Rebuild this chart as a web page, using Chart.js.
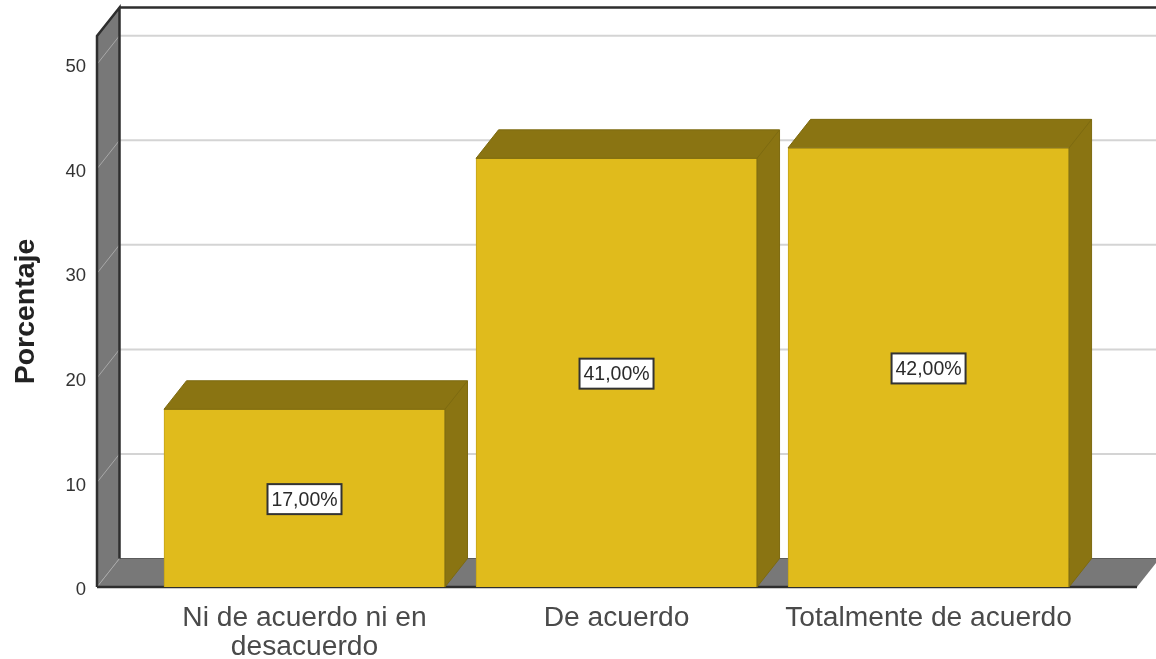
<!DOCTYPE html>
<html>
<head>
<meta charset="utf-8">
<title>Porcentaje</title>
<script src="https://cdn.jsdelivr.net/npm/chart.js@4"></script>
<style>
  html, body { margin: 0; padding: 0; background: #fff; overflow: hidden; }
  #wrap { width: 1156px; height: 659px; }
  canvas { filter: blur(0.5px); }
</style>
</head>
<body>
<div id="wrap"><canvas id="chart"></canvas></div>
<script>
const categories = [['Ni de acuerdo ni en', 'desacuerdo'], 'De acuerdo', 'Totalmente de acuerdo'];
const percentages = [17, 41, 42];
const valueLabels = ['17,00%', '41,00%', '42,00%'];

// profundidad del efecto 3D
const DX = 22.5;
const DY = 28.5;

const wall3d = {
  id: 'wall3d',
  beforeDatasetsDraw(chart) {
    const { ctx, chartArea: a, scales: { y } } = chart;
    const bx = a.left + DX;
    const by = a.bottom - DY;
    const top = a.top - DY;
    ctx.save();

    // pared izquierda
    ctx.fillStyle = '#787878';
    ctx.beginPath();
    ctx.moveTo(a.left, a.top);
    ctx.lineTo(bx, top);
    ctx.lineTo(bx, by);
    ctx.lineTo(a.left, a.bottom);
    ctx.closePath();
    ctx.fill();

    // suelo
    ctx.beginPath();
    ctx.moveTo(a.left, a.bottom);
    ctx.lineTo(bx, by);
    ctx.lineTo(a.right + DX, by);
    ctx.lineTo(a.right, a.bottom);
    ctx.closePath();
    ctx.fill();

    // lineas de cuadricula
    y.ticks.forEach(t => {
      const py = y.getPixelForValue(t.value);
      ctx.lineWidth = 1;
      ctx.strokeStyle = '#a8a8a8';
      ctx.beginPath();
      ctx.moveTo(a.left, py);
      ctx.lineTo(bx, py - DY);
      ctx.stroke();
      if (t.value > 0) {
        ctx.lineWidth = 2;
        ctx.strokeStyle = '#d4d4d4';
        ctx.beginPath();
        ctx.moveTo(bx, py - DY);
        ctx.lineTo(a.right + DX, py - DY);
        ctx.stroke();
      }
    });

    // borde trasero del suelo
    ctx.lineWidth = 1;
    ctx.strokeStyle = '#5c5c5c';
    ctx.beginPath();
    ctx.moveTo(bx, by);
    ctx.lineTo(a.right + DX, by);
    ctx.stroke();

    // bordes
    ctx.strokeStyle = '#2e2e2e';
    ctx.lineWidth = 2.5;
    ctx.beginPath();
    ctx.moveTo(a.left, a.bottom);
    ctx.lineTo(a.left, a.top);
    ctx.lineTo(bx, top);
    ctx.lineTo(bx, by);
    ctx.moveTo(bx, top);
    ctx.lineTo(a.right + DX, top);
    ctx.moveTo(a.left, a.bottom);
    ctx.lineTo(a.right, a.bottom);
    ctx.stroke();
    ctx.restore();
  },
  afterDatasetsDraw(chart) {
    const { ctx } = chart;
    const bars = chart.getDatasetMeta(0).data;
    ctx.save();
    bars.forEach((bar, i) => {
      const l = bar.x - bar.width / 2;
      const r = bar.x + bar.width / 2;

      // cara superior y lateral
      ctx.fillStyle = '#8a7412';
      ctx.strokeStyle = '#7d6a10';
      ctx.lineWidth = 1;
      ctx.beginPath();
      ctx.moveTo(l, bar.y);
      ctx.lineTo(l + DX, bar.y - DY);
      ctx.lineTo(r + DX, bar.y - DY);
      ctx.lineTo(r + DX, bar.base - DY);
      ctx.lineTo(r, bar.base);
      ctx.lineTo(r, bar.y);
      ctx.closePath();
      ctx.fill();
      ctx.stroke();
      ctx.beginPath();
      ctx.moveTo(r, bar.y);
      ctx.lineTo(r + DX, bar.y - DY);
      ctx.stroke();

      // etiqueta de valor
      const cy = (bar.y + bar.base) / 2 + 1;
      ctx.fillStyle = '#fff';
      ctx.strokeStyle = '#333';
      ctx.lineWidth = 2;
      ctx.fillRect(bar.x - 37, cy - 15, 74, 30);
      ctx.strokeRect(bar.x - 37, cy - 15, 74, 30);
      ctx.fillStyle = '#2a2a2a';
      ctx.font = '19.5px "Liberation Sans", Arial, sans-serif';
      ctx.textAlign = 'center';
      ctx.textBaseline = 'middle';
      ctx.fillText(valueLabels[i], bar.x, cy + 1);
    });
    ctx.restore();
  }
};

new Chart(document.getElementById('chart'), {
  type: 'bar',
  data: {
    datasets: [{
      label: 'Porcentaje',
      data: percentages.map((v, i) => ({ x: i, y: v })),
      backgroundColor: '#e0bb1c',
      borderColor: '#c4a41a',
      borderWidth: 1,
      barThickness: 281
    }]
  },
  options: {
    responsive: true,
    maintainAspectRatio: false,
    animation: false,
    layout: { padding: { top: 36, right: 19, left: 0, bottom: 0 } },
    plugins: { legend: { display: false }, tooltip: { enabled: false } },
    scales: {
      x: {
        type: 'linear',
        offset: false,
        min: -0.665,
        max: 2.668,
        grid: { display: false },
        border: { display: false },
        afterBuildTicks: axis => { axis.ticks = categories.map((_, i) => ({ value: i })); },
        afterFit: axis => { axis.height = 72; },
        ticks: {
          autoSkip: false,
          maxRotation: 0,
          padding: 9,
          color: '#4a4a4a',
          font: { family: '"Liberation Sans", Arial, sans-serif', size: 28.2, lineHeight: 1.03 },
          callback: v => categories[v]
        }
      },
      y: {
        min: 0,
        max: 52.7,
        grid: { display: false },
        border: { display: false },
        afterFit: axis => { axis.width = 97; },
        ticks: {
          stepSize: 10,
          includeBounds: false,
          padding: 3,
          labelOffset: 3,
          color: '#333',
          font: { family: '"Liberation Sans", Arial, sans-serif', size: 18.5 }
        },
        title: {
          display: true,
          text: 'Porcentaje',
          color: '#222',
          padding: { top: 9, bottom: 0 },
          font: { family: '"Liberation Sans", Arial, sans-serif', size: 28.5, weight: 'bold' }
        }
      }
    }
  },
  plugins: [wall3d]
});
</script>
</body>
</html>
